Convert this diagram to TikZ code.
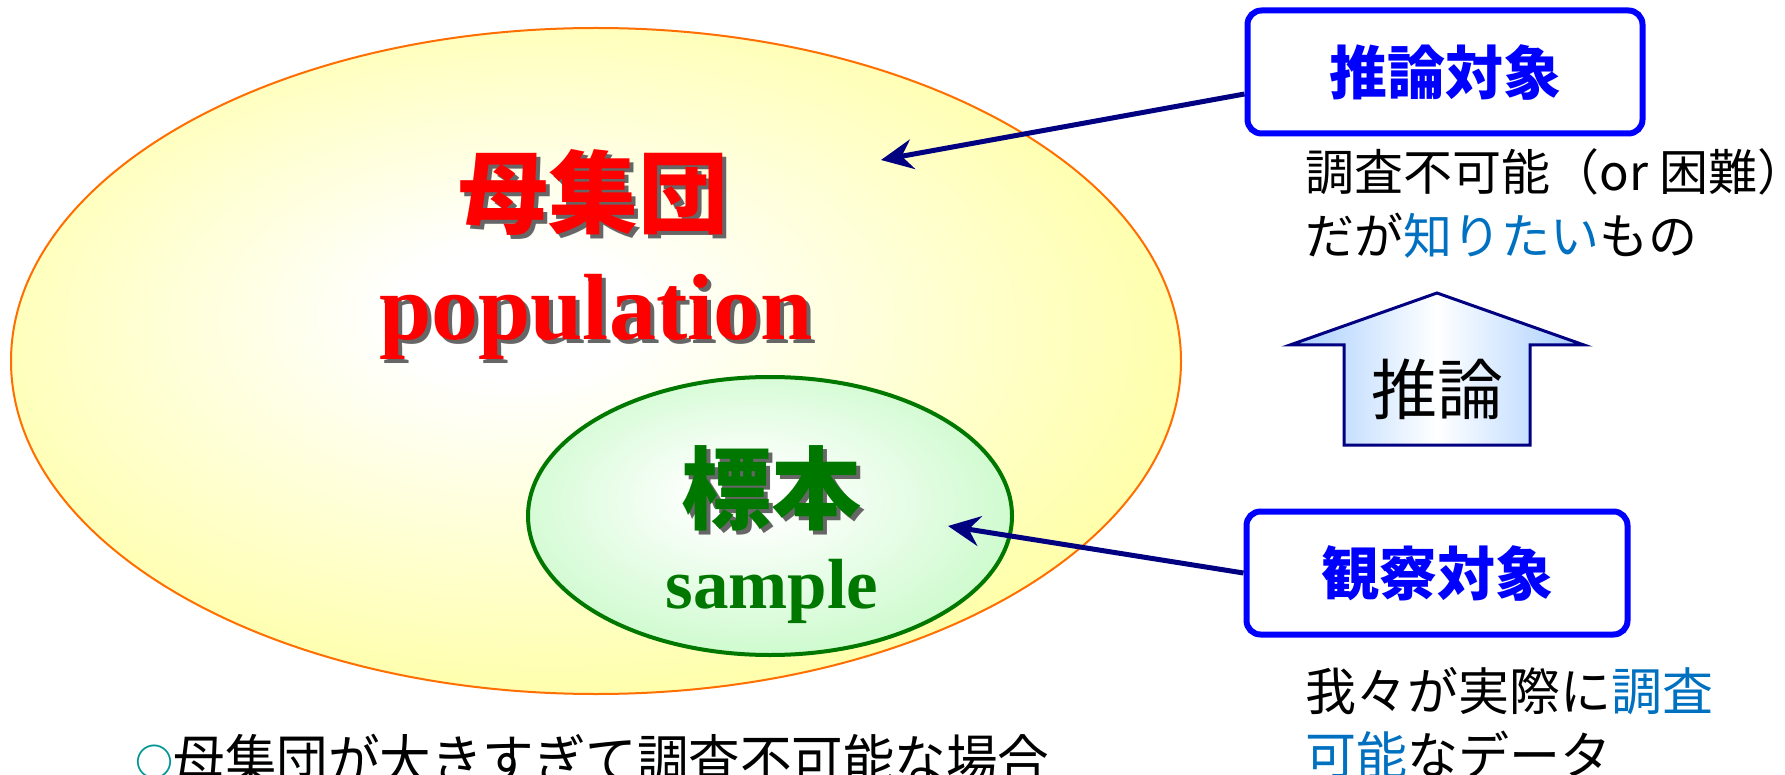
\documentclass[tikz,border=0pt]{standalone}
\usepackage{fontspec}
\newfontfamily\jp{Noto Sans CJK JP}
\newfontfamily\jpnarrow[FakeStretch=0.92]{Noto Sans CJK JP}
\newfontfamily\tms{Liberation Serif}
\usetikzlibrary{positioning,arrows.meta}

\definecolor{navy}{RGB}{0,0,128}
\definecolor{popyellow}{RGB}{255,255,150}
\definecolor{popred}{RGB}{255,0,0}
\definecolor{smpgreen}{RGB}{0,120,0}
\definecolor{smplight}{RGB}{200,250,200}
\definecolor{boxblue}{RGB}{0,0,255}
\definecolor{hiblue}{RGB}{0,112,192}
\definecolor{arrowblue}{RGB}{165,205,255}
\definecolor{dotteal}{RGB}{0,150,150}
\definecolor{popedge}{RGB}{255,110,0}

\pgfdeclareradialshading{popshade}{\pgfpoint{-4bp}{4bp}}{%
  color(0bp)=(white); color(5bp)=(white); color(33bp)=(popyellow); color(50bp)=(popyellow)}
\pgfdeclareradialshading{smpshade}{\pgfpoint{-3bp}{4bp}}{%
  color(0bp)=(white); color(4bp)=(white); color(30bp)=(smplight); color(50bp)=(smplight)}

\begin{document}
\begin{tikzpicture}[x=1pt, y=-1pt,
    conn/.style={draw=navy, line width=5pt, -{Stealth[length=32pt, width=30pt, inset=11pt]}},
    roundbox/.style={draw=boxblue, line width=6pt, rounded corners=14pt, fill=white,
      minimum width=395pt, minimum height=123pt, text=boxblue,
      font=\jp\bfseries\fontsize{58}{60}\selectfont},
    note/.style={anchor=west, align=left, font=\jp\fontsize{49}{64}\selectfont},
    shade/.style={text=black!60}]
  \useasboundingbox (0,0) rectangle (1785,775);

  % population and sample
  \draw[popedge, line width=2pt, shading=popshade] (596,361) ellipse [x radius=585, y radius=333];
  \draw[smpgreen, line width=4pt, shading=smpshade] (770,516) ellipse [x radius=242, y radius=139];

  \node[shade, font=\jp\bfseries\fontsize{90}{92}\selectfont] (popjpsh) at (597,196) {母集団};
  \node[text=popred, font=\jp\bfseries\fontsize{90}{92}\selectfont] (popjp) at (593,192) {母集団};
  \node[shade, anchor=base, font=\tms\bfseries\fontsize{94}{96}\selectfont] (popensh) at (600,344) {population};
  \node[text=popred, anchor=base, font=\tms\bfseries\fontsize{94}{96}\selectfont] (popen) at (596,340) {population};
  \node[shade, font=\jp\bfseries\fontsize{90}{92}\selectfont] (smpjpsh) at (775,492) {標本};
  \node[text=smpgreen, font=\jp\bfseries\fontsize{90}{92}\selectfont] (smpjp) at (771,488) {標本};
  \node[text=smpgreen, anchor=base, font=\tms\bfseries\fontsize{71}{73}\selectfont] (smpen) at (772,608) {sample};

  % boxes
  \node[roundbox] (target) at (1445,72) {推論対象};
  \node[roundbox, minimum width=381pt] (observe) at (1437,573) {観察対象};
  \coordinate (popin) at (881,160);
  \coordinate (smpin) at (948,526);
  \draw[conn] ([yshift=-22pt]target.west) -- (popin);
  \draw[conn] (observe.west) -- (smpin);

  \node[note] (wantnote) at (1302,203) {調査不可能（or 困難）\\だが\textcolor{hiblue}{知りたい}もの};
  \node[note, font=\jp\fontsize{51}{64}\selectfont] (datanote) at (1302,723)
    {我々が実際に\textcolor{hiblue}{調査}\\\textcolor{hiblue}{可能}なデータ};

  % inference arrow
  \draw[navy, line width=3pt, left color=arrowblue, right color=arrowblue, middle color=white]
    (1344,445) -- (1344,345) -- (1290,345) -- (1437,293) -- (1584,345) -- (1530,345) -- (1530,445) -- cycle;
  \node[font=\jp\fontsize{66}{68}\selectfont] (infer) at (1437,389) {推論};

  \node[anchor=base west, font=\jpnarrow\fontsize{56}{58}\selectfont] (cond) at (132,781)
    {\textcolor{dotteal}{\jp\bfseries\fontsize{38}{38}\selectfont\raisebox{5pt}{○}}母集団が大きすぎて調査不可能な場合};
\end{tikzpicture}
\end{document}
